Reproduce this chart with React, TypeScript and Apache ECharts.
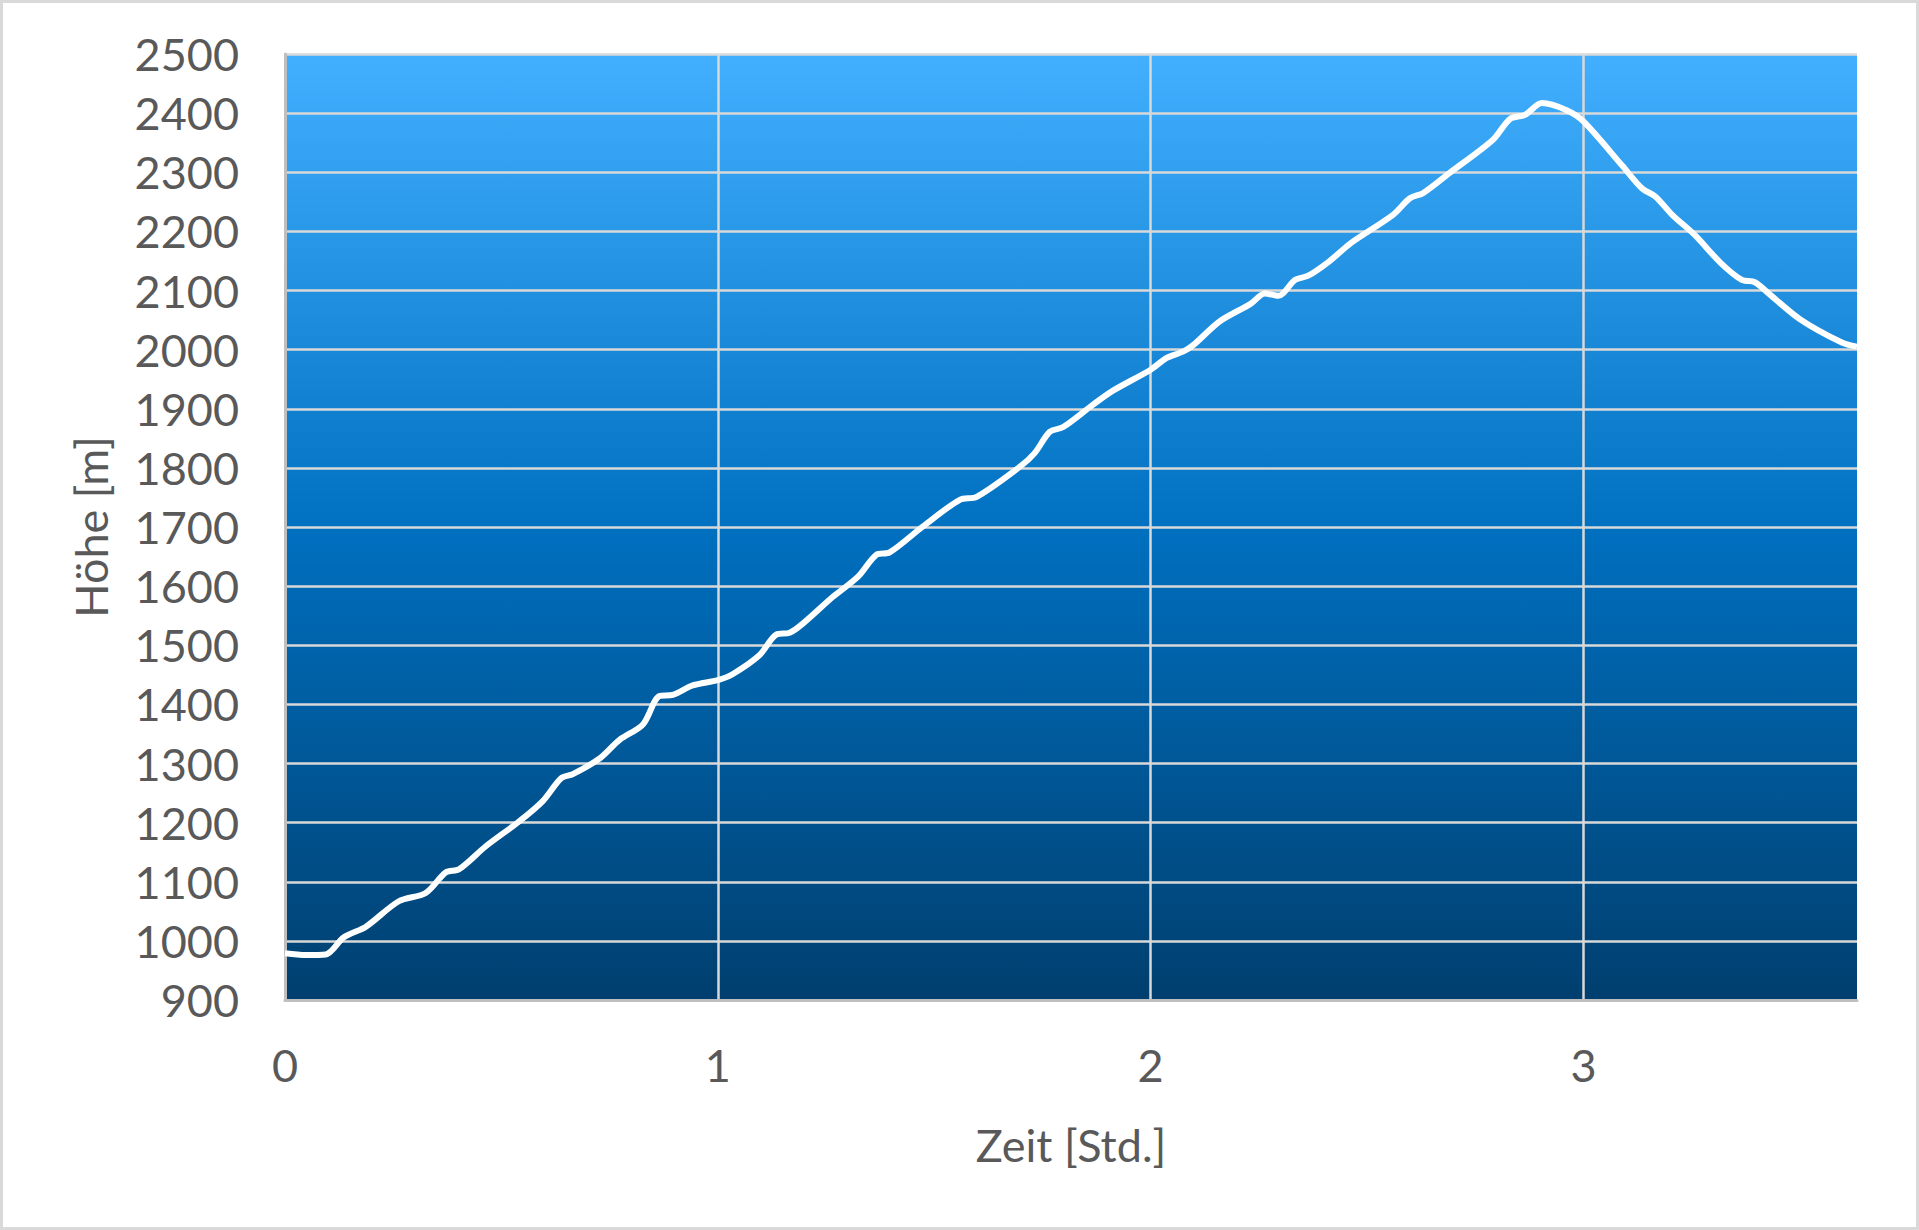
import * as echarts from 'echarts';
import { useEffect, useRef } from 'react';

// elevation profile, time in hours
const timeHours = [
  0, 0.048, 0.094, 0.136, 0.187, 0.263, 0.325, 0.372, 0.402, 0.464, 0.541, 0.595, 0.638, 0.665,
  0.726, 0.773, 0.827, 0.865, 0.896, 0.942, 1.0, 1.034, 1.096, 1.135, 1.166, 1.197, 1.266, 1.324,
  1.366, 1.397, 1.474, 1.559, 1.598, 1.698, 1.732, 1.767, 1.798, 1.867, 1.914, 2.0, 2.037, 2.076,
  2.099, 2.16, 2.23, 2.264, 2.295, 2.334, 2.364, 2.412, 2.464, 2.56, 2.599, 2.63, 2.691, 2.791,
  2.83, 2.865, 2.904, 2.961, 3.0, 3.091, 3.135, 3.166, 3.205, 3.257, 3.318, 3.366, 3.396, 3.431,
  3.501, 3.597, 3.632
];
const elevation = [
  979, 976, 977, 1006, 1024, 1067, 1081, 1116, 1121, 1160, 1202, 1236, 1275, 1282,
  1308, 1340, 1366, 1414, 1416, 1432, 1441, 1451, 1483, 1518, 1521, 1537, 1582, 1616,
  1653, 1657, 1701, 1746, 1751, 1802, 1825, 1861, 1869, 1907, 1931, 1966, 1986, 1997,
  2008, 2048, 2077, 2095, 2091, 2118, 2125, 2149, 2181, 2228, 2256, 2265, 2299, 2355,
  2390, 2397, 2417, 2405, 2386, 2310, 2273, 2259, 2228, 2194, 2146, 2118, 2114, 2093,
  2051, 2012, 2005
];

const xMax = 3.632;
const yMin = 900;
const yMax = 2500;

const textColor = '#595959';
const font = 'Lato, "Open Sans", sans-serif';

const App: React.FC = () => {
  const chartRef = useRef<HTMLDivElement | null>(null);

  useEffect(() => {
    if (!chartRef.current) return;
    const chart = echarts.init(chartRef.current, undefined, { renderer: 'svg' });

    const option: any = {
      animation: false,
      backgroundColor: '#ffffff',
      textStyle: { fontFamily: font },
      graphic: [
        {
          type: 'rect',
          shape: { x: 1.5, y: 1.5, width: 1916, height: 1227 },
          style: { fill: 'none', stroke: '#d9d9d9', lineWidth: 3 },
          silent: true
        }
      ],
      grid: {
        left: 285,
        right: 62,
        top: 54,
        bottom: 230,
        outerBoundsMode: 'none',
        show: true,
        borderWidth: 0,
        backgroundColor: {
          type: 'linear',
          x: 0,
          y: 0,
          x2: 0,
          y2: 1,
          colorStops: [
            { offset: 0, color: '#42b0ff' },
            { offset: 0.5, color: '#0070c0' },
            { offset: 1, color: '#003f6f' }
          ]
        }
      },
      xAxis: {
        type: 'value',
        min: 0,
        max: xMax,
        interval: 1,
        name: 'Zeit [Std.]',
        nameLocation: 'middle',
        nameGap: 122,
        nameTextStyle: { color: textColor, fontSize: 45, fontFamily: font },
        axisLine: { show: true, lineStyle: { color: '#bfbfbf', width: 3 } },
        axisTick: { show: false },
        axisLabel: {
          color: textColor,
          fontSize: 45,
          fontFamily: font,
          margin: 42,
          showMaxLabel: false,
          formatter: (v: number) => (Number.isInteger(v) ? String(v) : '')
        },
        splitLine: {
          show: true,
          showMaxLine: false,
          lineStyle: { color: '#d9d9d9', width: 2.5 }
        }
      },
      yAxis: {
        type: 'value',
        min: yMin,
        max: yMax,
        interval: 100,
        name: 'Höhe [m]',
        nameLocation: 'middle',
        nameGap: 172,
        nameTextStyle: { color: textColor, fontSize: 45, fontFamily: font },
        axisLine: { show: true, lineStyle: { color: '#bfbfbf', width: 3 } },
        axisTick: { show: false },
        axisLabel: {
          color: textColor,
          fontSize: 45,
          fontFamily: font,
          margin: 46,
          formatter: (v: number) => String(v)
        },
        splitLine: { show: true, lineStyle: { color: '#d9d9d9', width: 2.5 } }
      },
      series: [
        {
          type: 'line',
          data: timeHours.map((t, i) => [t, elevation[i]]),
          showSymbol: false,
          smooth: 0.3,
          lineStyle: { color: '#ffffff', width: 6 },
          itemStyle: { color: '#ffffff' }
        }
      ]
    };

    chart.setOption(option);

    return () => {
      chart.dispose();
    };
  }, []);

  return (
    <div
      ref={chartRef}
      style={{ position: 'absolute', left: 0, top: 0, width: 1919, height: 1230 }}
    />
  );
};

export default App;
